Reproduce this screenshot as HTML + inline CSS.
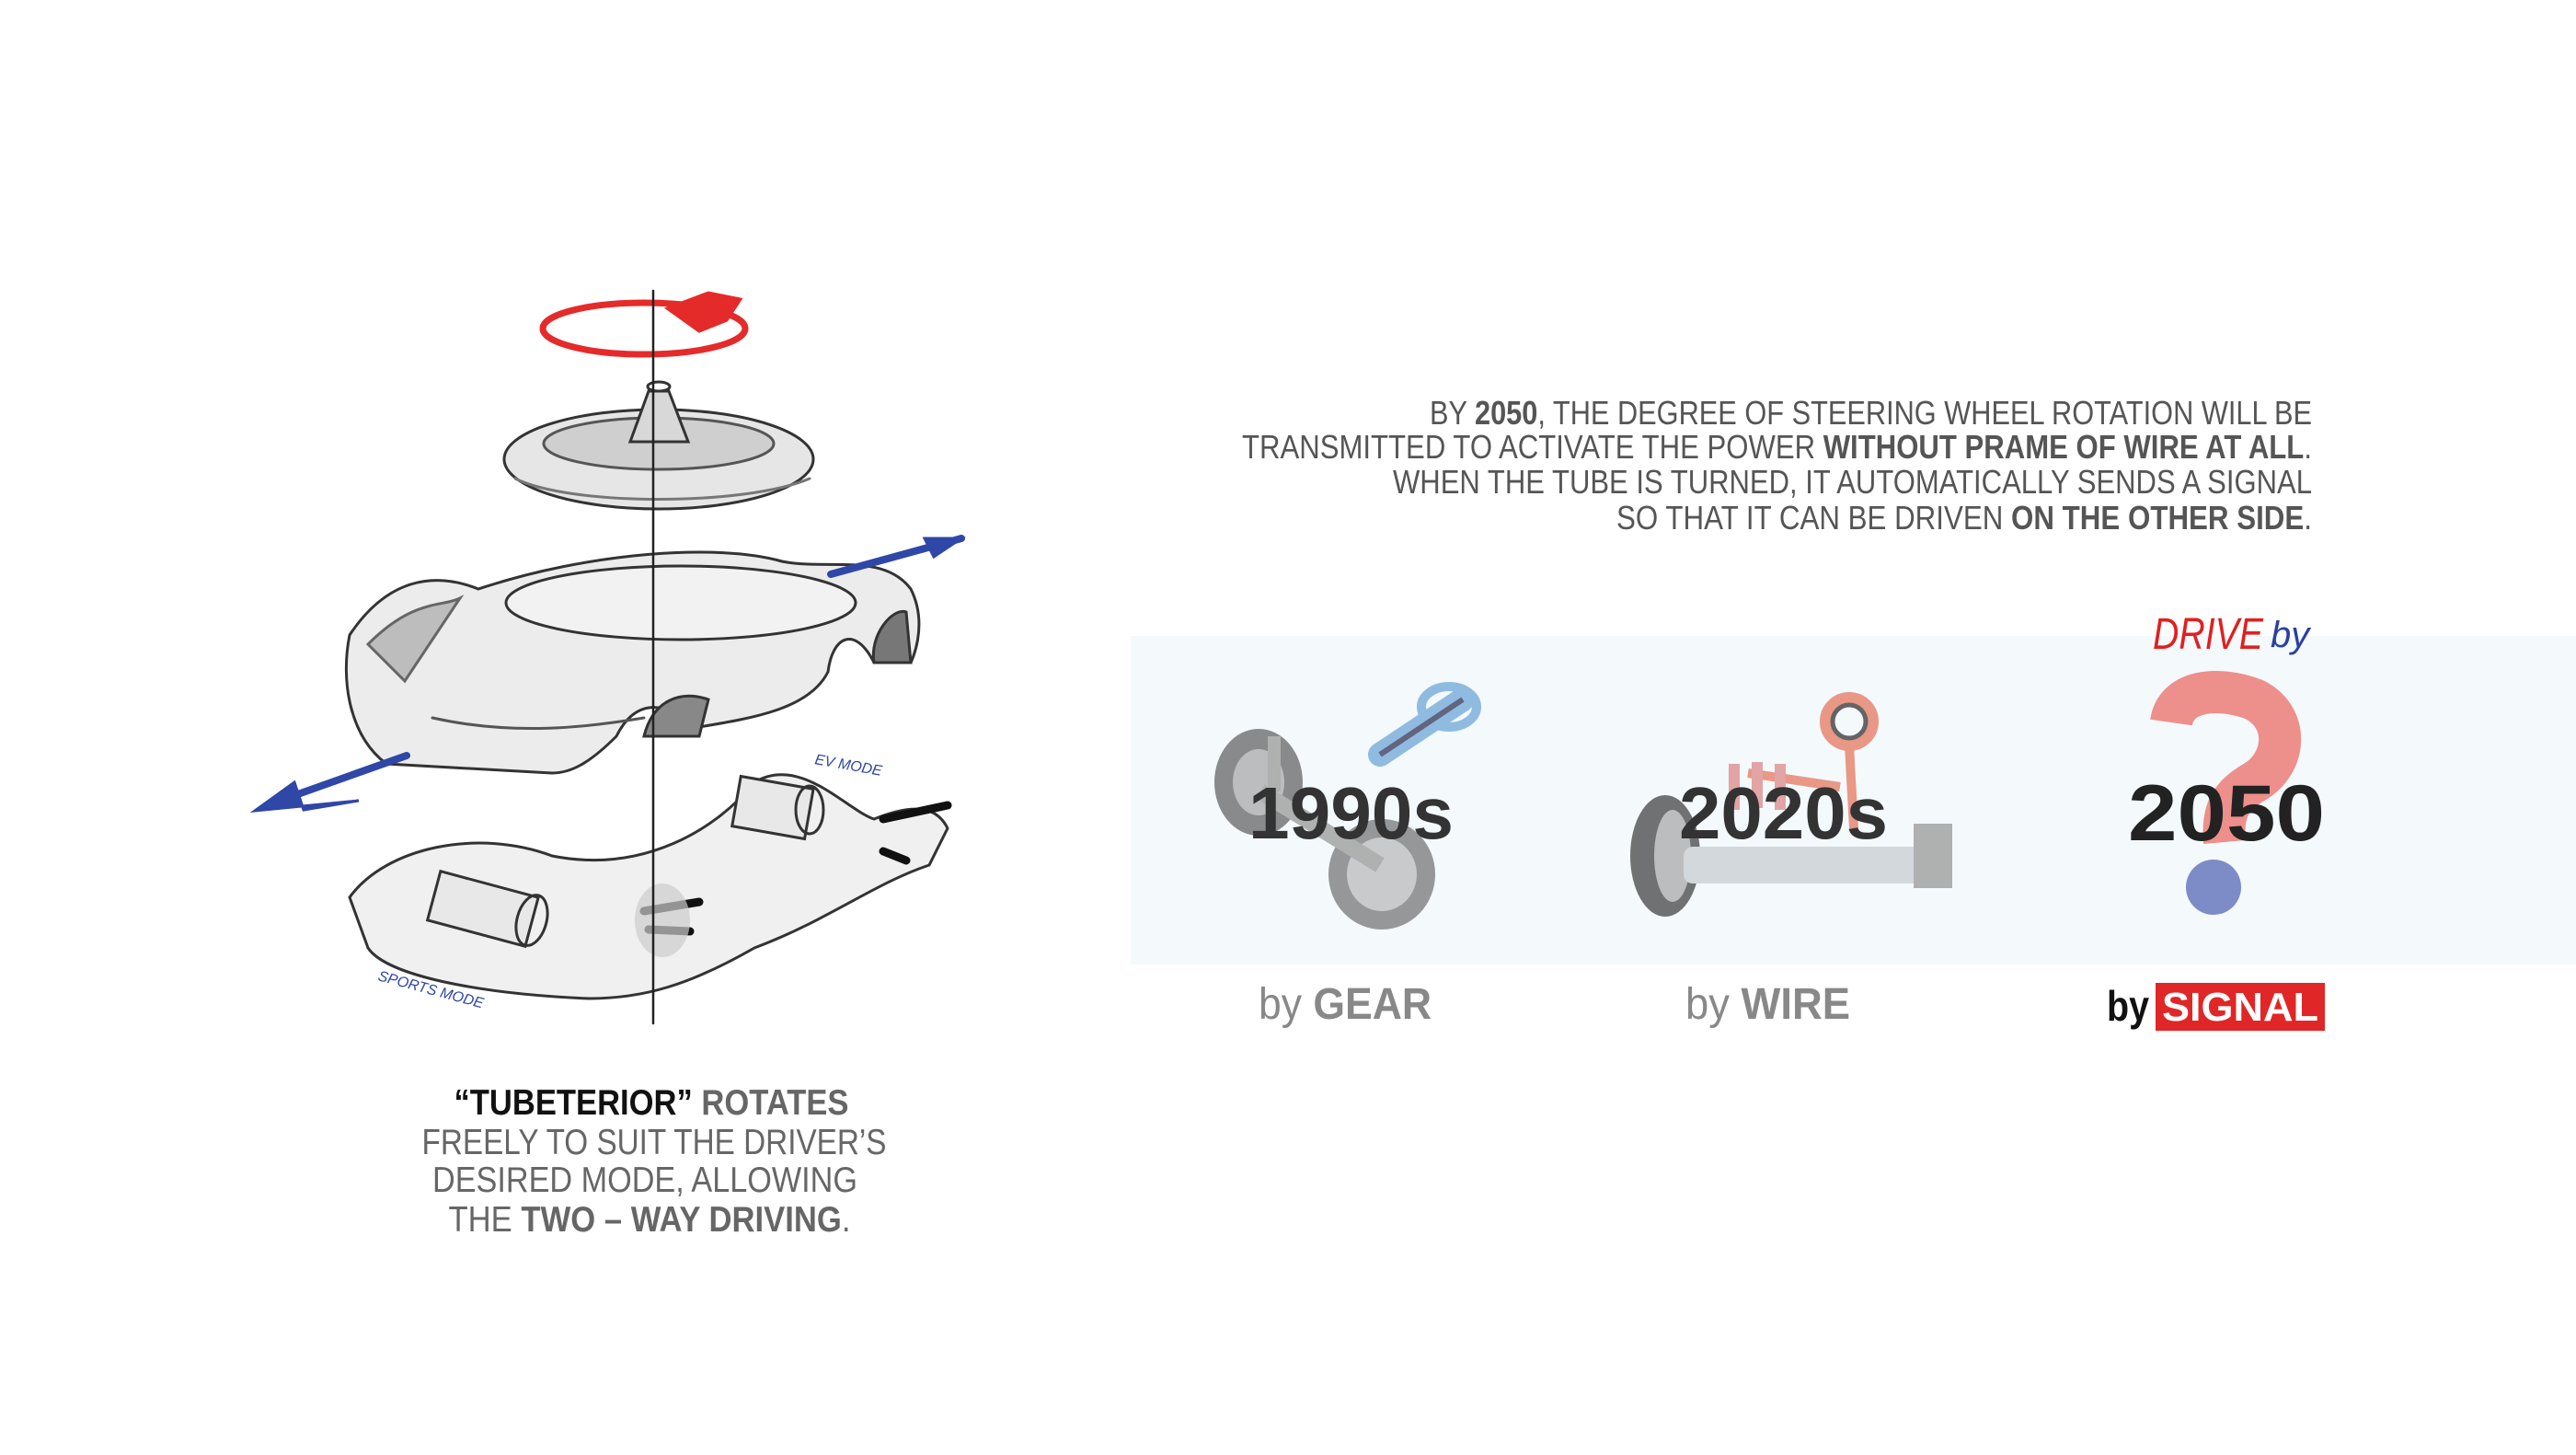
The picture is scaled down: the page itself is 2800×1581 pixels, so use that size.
<!DOCTYPE html>
<html><head><meta charset="utf-8"><style>
html,body{margin:0;padding:0;background:#fff;width:2800px;height:1581px;overflow:hidden}
svg{display:block}
text{font-family:"Liberation Sans",sans-serif}
</style></head><body>
<svg width="2800" height="1581" viewBox="0 0 2800 1581" xmlns="http://www.w3.org/2000/svg">
<rect x="1229" y="691" width="1571" height="357" fill="#f4f9fc"/>

<!-- top paragraph -->
<g font-size="36" fill="#555" text-anchor="end" font-weight="300">
<text x="2513" y="461" textLength="959" lengthAdjust="spacingAndGlyphs">BY <tspan font-weight="bold">2050</tspan>, THE DEGREE OF STEERING WHEEL ROTATION WILL BE</text>
<text x="2513" y="498" textLength="1163" lengthAdjust="spacingAndGlyphs">TRANSMITTED TO ACTIVATE THE POWER <tspan font-weight="bold">WITHOUT PRAME OF WIRE AT ALL</tspan>.</text>
<text x="2513" y="536" textLength="999" lengthAdjust="spacingAndGlyphs">WHEN THE TUBE IS TURNED, IT AUTOMATICALLY SENDS A SIGNAL</text>
<text x="2513" y="575" textLength="756" lengthAdjust="spacingAndGlyphs">SO THAT IT CAN BE DRIVEN <tspan font-weight="bold">ON THE OTHER SIDE</tspan>.</text>
</g>

<!-- 1990s illustration -->
<g opacity="0.75">
<path d="M1500 820 L1560 780 L1590 760" stroke="#6fa7d8" stroke-width="26" fill="none" stroke-linecap="round"/>
<ellipse cx="1575" cy="768" rx="30" ry="22" fill="none" stroke="#6fa7d8" stroke-width="10"/>
<path d="M1500 820 L1560 780 L1590 760" stroke="#335" stroke-width="6" fill="none"/>
<ellipse cx="1368" cy="850" rx="48" ry="58" fill="#666"/>
<ellipse cx="1368" cy="850" rx="28" ry="36" fill="#aaa"/>
<ellipse cx="1502" cy="950" rx="58" ry="60" fill="#777"/>
<ellipse cx="1502" cy="950" rx="38" ry="40" fill="#bbb"/>
<path d="M1370 860 L1500 940" stroke="#999" stroke-width="18"/>
<rect x="1378" y="800" width="14" height="60" fill="#999"/>
</g>
<!-- 2020s illustration -->
<g opacity="0.75">
<ellipse cx="1810" cy="930" rx="38" ry="66" fill="#444"/>
<ellipse cx="1818" cy="930" rx="20" ry="50" fill="#aaa"/>
<rect x="1830" y="920" width="260" height="40" rx="10" fill="#c9ced3"/>
<rect x="2080" y="895" width="42" height="70" fill="#999"/>
<circle cx="2010" cy="784" r="26" fill="none" stroke="#e4785e" stroke-width="12"/>
<circle cx="2010" cy="784" r="18" fill="none" stroke="#333" stroke-width="5"/>
<path d="M2010 810 L2015 900 M1900 840 L2000 855" stroke="#e4785e" stroke-width="10" fill="none"/>
<path d="M1885 830 v50 M1910 828 v50 M1935 830 v50" stroke="#d88" stroke-width="12"/>
</g>
<!-- 2050 question mark -->
<g fill="none" stroke-width="3">
<path d="M2360 785 C2365 750 2410 745 2450 760 C2490 780 2485 830 2450 850 C2425 865 2415 880 2418 915" stroke="#e8382d" stroke-width="46" opacity="0.55"/>
<circle cx="2406" cy="964" r="30" fill="#4a5db0" opacity="0.7"/>
</g>

<g font-weight="bold" fill="#333">
<text x="1357" y="911" font-size="80" textLength="223" lengthAdjust="spacingAndGlyphs">1990s</text>
<text x="1825" y="911" font-size="80" textLength="227" lengthAdjust="spacingAndGlyphs">2020s</text>
<text x="2313" y="913" font-size="86" fill="#222" textLength="214" lengthAdjust="spacingAndGlyphs">2050</text>
</g>

<text x="2340" y="705" font-size="48" fill="#e02020" font-style="italic" textLength="120" lengthAdjust="spacingAndGlyphs" font-family="Liberation Sans Narrow, Liberation Sans, sans-serif">DRIVE</text>
<text x="2468" y="703" font-size="40" fill="#2a3fa0" font-style="italic">by</text>

<g font-size="48" fill="#888">
<text x="1368" y="1107" textLength="188" lengthAdjust="spacingAndGlyphs">by <tspan font-weight="bold">GEAR</tspan></text>
<text x="1832" y="1107" textLength="179" lengthAdjust="spacingAndGlyphs">by <tspan font-weight="bold">WIRE</tspan></text>
</g>
<text x="2290" y="1109" font-size="46" font-weight="bold" fill="#111" textLength="46" lengthAdjust="spacingAndGlyphs">by</text>
<rect x="2343" y="1068" width="184" height="52" fill="#e02626"/>
<text x="2350" y="1109" font-size="44" font-weight="bold" fill="#fff" textLength="170" lengthAdjust="spacingAndGlyphs">SIGNAL</text>

<!-- left text -->
<g font-size="39" text-anchor="middle" fill="#666" font-weight="300">
<text x="708" y="1211" textLength="429" lengthAdjust="spacingAndGlyphs" font-weight="bold"><tspan fill="#111">“TUBETERIOR”</tspan> ROTATES</text>
<text x="711" y="1254" textLength="505" lengthAdjust="spacingAndGlyphs">FREELY TO SUIT THE DRIVER’S</text>
<text x="701" y="1295" textLength="462" lengthAdjust="spacingAndGlyphs">DESIRED MODE, ALLOWING</text>
<text x="706" y="1338" textLength="437" lengthAdjust="spacingAndGlyphs">THE <tspan font-weight="bold">TWO – WAY DRIVING</tspan>.</text>
</g>

<!-- sketch -->
<g fill="none" stroke="#333" stroke-width="3" stroke-linecap="round">
<!-- red rotation -->
<ellipse cx="700" cy="357" rx="110" ry="28" stroke="#e52a2a" stroke-width="7"/>
<path d="M725 335 L770 318 L805 325 L790 348 L760 360 Z" fill="#e52a2a" stroke="#e52a2a"/>
<!-- saucer -->
<ellipse cx="716" cy="499" rx="168" ry="54" fill="#e6e6e6"/>
<ellipse cx="716" cy="482" rx="125" ry="28" fill="#cfcfcf" stroke="#555"/>
<path d="M685 480 L705 425 L727 425 L748 480 Z" fill="#d8d8d8"/>
<ellipse cx="716" cy="420" rx="12" ry="5"/>
<path d="M560 520 C620 550 810 550 880 520" stroke="#777"/>
<!-- car body -->
<path d="M380 690 C420 630 470 620 520 640 C640 600 780 590 850 610 C900 620 960 600 990 640 C1010 680 990 720 990 720 L950 720 C930 680 905 690 900 730 C880 770 820 780 760 790 C720 760 690 760 670 800 C640 830 620 840 600 840 L420 830 C380 800 370 740 380 690 Z" fill="#ececec"/>
<ellipse cx="740" cy="655" rx="190" ry="40" fill="#f2f2f2"/>
<path d="M400 700 C450 650 480 660 500 650 L440 740 Z" fill="#bdbdbd" stroke="#666"/>
<path d="M950 720 C945 690 970 660 985 665 L990 720 Z" fill="#777"/>
<path d="M700 800 C710 760 740 750 770 760 L760 800 Z" fill="#888"/>
<path d="M470 780 C560 800 640 790 700 780" stroke="#555"/>
<!-- blue arrows -->
<path d="M903 624 L1045 585" stroke="#2f47a7" stroke-width="8"/>
<path d="M1045 585 L1005 585 L1015 605 Z" fill="#2f47a7" stroke="#2f47a7"/>
<path d="M442 821 L290 875" stroke="#2f47a7" stroke-width="8"/>
<path d="M277 881 L320 850 L330 880 L390 870 Z" fill="#2f47a7" stroke="#2f47a7"/>
<!-- chassis -->
<path d="M380 975 C420 920 520 900 600 930 C700 950 780 900 820 850 C870 820 920 880 950 890 C1000 870 1020 880 1030 900 L1010 940 C950 960 900 1000 820 1030 C750 1070 700 1085 640 1085 C520 1080 420 1060 400 1030 Z" fill="#f0f0f0"/>
<rect x="470" y="960" width="110" height="55" transform="rotate(15 525 987)" fill="#e8e8e8"/>
<ellipse cx="578" cy="1000" rx="16" ry="28" transform="rotate(15 578 1000)"/>
<rect x="800" y="850" width="80" height="55" transform="rotate(10 840 877)" fill="#e8e8e8"/>
<ellipse cx="880" cy="880" rx="15" ry="26"/>
<path d="M700 990 L760 980 M705 1010 L750 1012 M960 890 L1030 875 M960 925 L985 935" stroke="#111" stroke-width="9"/>
<ellipse cx="720" cy="1000" rx="30" ry="40" fill="#ccc" stroke="none" opacity="0.7"/>
<text x="410" y="1065" font-size="16" fill="#2f47a7" stroke="none" font-style="italic" transform="rotate(15 410 1065)">SPORTS MODE</text>
<text x="885" y="830" font-size="16" fill="#2f47a7" stroke="none" font-style="italic" transform="rotate(10 885 830)">EV MODE</text>
<!-- axis -->
<line x1="710" y1="316" x2="710" y2="1112" stroke="#222" stroke-width="2.5"/>
</g>
</svg>
</body></html>
